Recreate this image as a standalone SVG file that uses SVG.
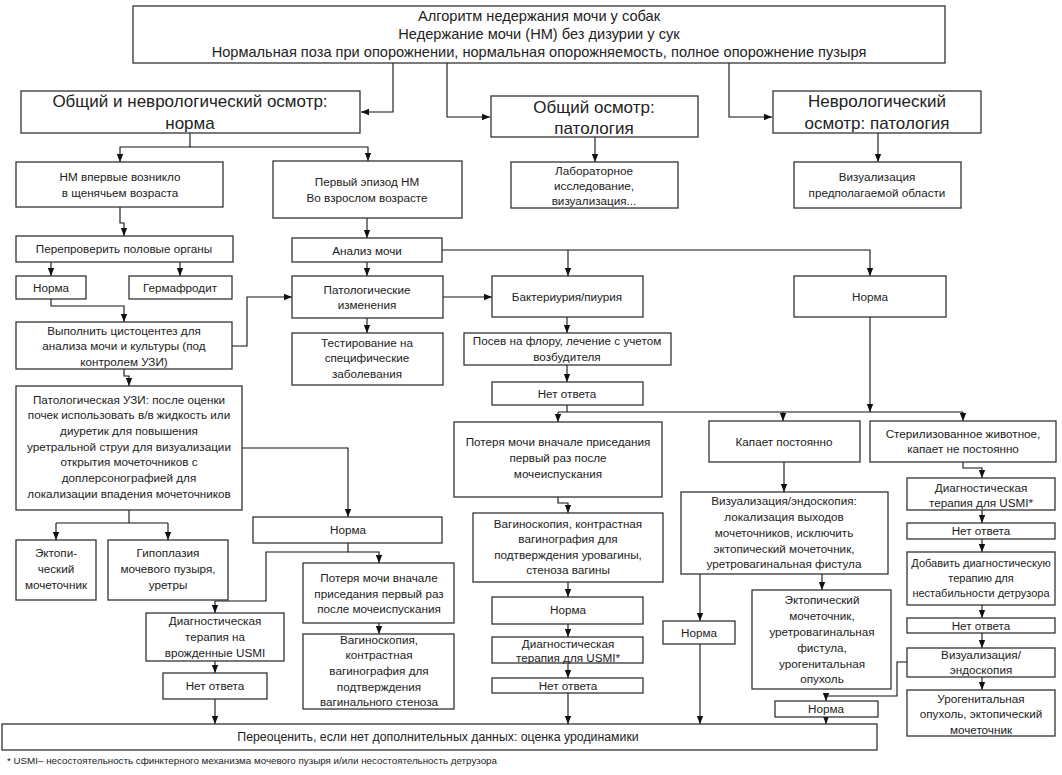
<svg xmlns="http://www.w3.org/2000/svg" width="1062" height="775" viewBox="0 0 1062 775">
<style>
.b{fill:#fff;stroke:#333;stroke-width:1.3}
text{font-family:"Liberation Sans",Arial,sans-serif;font-size:11.7px;fill:#222;text-anchor:middle}
.t14{font-size:14.6px}
.t17{font-size:17px}
.t12{font-size:12.3px}
.fn{font-size:9.5px;text-anchor:start}
.c{fill:none;stroke:#111;stroke-width:1.1}
.a{marker-end:url(#ah)}
</style>
<defs>
<marker id="ah" viewBox="0 0 10 10" refX="10" refY="5" markerWidth="8" markerHeight="8" markerUnits="userSpaceOnUse" orient="auto"><path d="M0,1 L10,5 L0,9 z" fill="#111"/></marker>
</defs>
<rect width="1062" height="775" fill="#fff"/>
<g id="connectors">
<path class="c a" d="M393,63 V112 H361"/>
<path class="c a" d="M447,63 V117 H490"/>
<path class="c a" d="M729,63 V117 H772"/>
<path class="c a" d="M595,137 V162"/>
<path class="c a" d="M878,133 V162"/>
<path class="c a" d="M190,133 V147 H120 V162"/>
<path class="c a" d="M190,147 H368 V161"/>
<path class="c a" d="M120,207 V223 H124 V236"/>
<path class="c a" d="M367,218 V238"/>
<path class="c a" d="M51,262 V276"/>
<path class="c a" d="M180,262 V276"/>
<path class="c a" d="M51,299 V306 H124 V322"/>
<path class="c a" d="M232,346 H247 V297 H292"/>
<path class="c a" d="M124,369 V376 H129 V386"/>
<path class="c a" d="M367,262 V276"/>
<path class="c a" d="M442,250 H870 V276"/>
<path class="c a" d="M568,250 V276"/>
<path class="c a" d="M367,318 V333"/>
<path class="c a" d="M443,297 H492"/>
<path class="c a" d="M567,317 V333"/>
<path class="c a" d="M567,365 V382"/>
<path class="c" d="M567,405 V412 M558,412 H963"/>
<path class="c a" d="M558,412 V422"/>
<path class="c a" d="M783,412 V421"/>
<path class="c a" d="M963,412 V421"/>
<path class="c a" d="M870,317 V412"/>
<path class="c a" d="M784,462 V492"/>
<path class="c a" d="M963,462 V468 H982 V478"/>
<path class="c a" d="M982,510 V523"/>
<path class="c a" d="M982,539 V552"/>
<path class="c a" d="M982,605 V618"/>
<path class="c a" d="M982,633 V648"/>
<path class="c a" d="M982,677 V690"/>
<path class="c a" d="M907,662 H897 V696 H826 V701"/>
<path class="c a" d="M700,574 V621"/>
<path class="c a" d="M700,644 V724"/>
<path class="c a" d="M822,574 V590"/>
<path class="c a" d="M826,717 V724"/>
<path class="c a" d="M558,497 V503 H568 V513"/>
<path class="c a" d="M568,582 V597"/>
<path class="c a" d="M568,624 V637"/>
<path class="c a" d="M568,663 V678"/>
<path class="c a" d="M568,693 V724"/>
<path class="c a" d="M242,448 H348 V517"/>
<path class="c" d="M129,510 V523 M56,523 H168"/>
<path class="c a" d="M56,523 V540"/>
<path class="c a" d="M168,523 V540"/>
<path class="c a" d="M348,543 V552 H266 V601 H215 V613"/>
<path class="c a" d="M348,552 H379 V563"/>
<path class="c a" d="M215,661 V673"/>
<path class="c a" d="M215,699 V724"/>
<path class="c a" d="M379,623 V634"/>
</g>
<g id="n-title"><rect class="b" x="133" y="6" width="812" height="57"/>
<text class="t14" x="539" y="21">Алгоритм недержания мочи у собак</text>
<text class="t14" x="539" y="39">Недержание мочи (НМ) без дизурии у сук</text>
<text class="t14" x="539" y="57">Нормальная поза при опорожнении, нормальная опорожняемость, полное опорожнение пузыря</text></g>
<g id="n-norm-exam"><rect class="b" x="21" y="91" width="339" height="42"/>
<text class="t17" x="190" y="107">Общий и неврологический осмотр:</text>
<text class="t17" x="190" y="129">норма</text></g>
<g id="n-gen-path"><rect class="b" x="491" y="96" width="207" height="41"/>
<text class="t17" x="594" y="113">Общий осмотр:</text>
<text class="t17" x="594" y="134">патология</text></g>
<g id="n-neuro-path"><rect class="b" x="773" y="91" width="208" height="42"/>
<text class="t17" x="877" y="107">Неврологический</text>
<text class="t17" x="877" y="129">осмотр: патология</text></g>
<g id="n-lab"><rect class="b" x="511" y="162" width="167" height="46"/>
<text x="594" y="175">Лабораторное</text>
<text x="594" y="190">исследование,</text>
<text x="594" y="205">визуализация...</text></g>
<g id="n-vis-area"><rect class="b" x="794" y="162" width="167" height="46"/>
<text x="877" y="181">Визуализация</text>
<text x="877" y="197">предполагаемой области</text></g>
<g id="n-puppy"><rect class="b" x="16" y="162" width="207" height="45"/>
<text x="120" y="181">НМ впервые возникло</text>
<text x="120" y="197">в щенячьем возраста</text></g>
<g id="n-adult"><rect class="b" x="273" y="161" width="189" height="57"/>
<text x="367" y="186">Первый эпизод  НМ</text>
<text x="367" y="202">Во взрослом возрасте</text></g>
<g id="n-recheck"><rect class="b" x="16" y="236" width="217" height="26"/>
<text x="124" y="253">Перепроверить половые органы</text></g>
<g id="n-urinalysis"><rect class="b" x="292" y="238" width="150" height="24"/>
<text x="367" y="255">Анализ мочи</text></g>
<g id="n-norm1"><rect class="b" x="16" y="276" width="70" height="23"/>
<text x="51" y="292">Норма</text></g>
<g id="n-herm"><rect class="b" x="129" y="276" width="103" height="23"/>
<text x="180" y="292">Гермафродит</text></g>
<g id="n-pathchg"><rect class="b" x="292" y="276" width="151" height="42"/>
<text x="367" y="294">Патологические</text>
<text x="367" y="309">изменения</text></g>
<g id="n-bact"><rect class="b" x="492" y="276" width="151" height="41"/>
<text x="567" y="301">Бактериурия/пиурия</text></g>
<g id="n-norm-right"><rect class="b" x="794" y="276" width="152" height="41"/>
<text x="870" y="301">Норма</text></g>
<g id="n-testing"><rect class="b" x="292" y="333" width="151" height="52"/>
<text x="367" y="347">Тестирование на</text>
<text x="367" y="362">специфические</text>
<text x="367" y="378">заболевания</text></g>
<g id="n-cysto"><rect class="b" x="16" y="322" width="216" height="47"/>
<text x="124" y="335">Выполнить цистоцентез для</text>
<text x="124" y="350">анализа мочи и культуры (под</text>
<text x="124" y="366">контролем УЗИ)</text></g>
<g id="n-culture"><rect class="b" x="464" y="333" width="207" height="32"/>
<text x="567" y="345">Посев на флору, лечение с учетом</text>
<text x="567" y="361">возбудителя</text></g>
<g id="n-noresp1"><rect class="b" x="492" y="382" width="151" height="23"/>
<text x="567" y="398">Нет ответа</text></g>
<g id="n-uzi"><rect class="b" x="16" y="386" width="226" height="124"/>
<text x="129" y="404">Патологическая УЗИ: после оценки</text>
<text x="129" y="419">почек использовать в/в жидкость или</text>
<text x="129" y="435">диуретик для повышения</text>
<text x="129" y="451">уретральной струи для визуализации</text>
<text x="129" y="466">открытия мочеточников с</text>
<text x="129" y="482">доплерсонографией для</text>
<text x="129" y="498">локализации впадения мочеточников</text></g>
<g id="n-loss-mid"><rect class="b" x="454" y="422" width="208" height="75"/>
<text x="558" y="446">Потеря мочи вначале приседания</text>
<text x="558" y="462">первый раз после</text>
<text x="558" y="478">мочеиспускания</text></g>
<g id="n-drip"><rect class="b" x="709" y="421" width="151" height="41"/>
<text x="784" y="446">Капает постоянно</text></g>
<g id="n-steril"><rect class="b" x="870" y="421" width="186" height="41"/>
<text x="963" y="438">Стерилизованное животное,</text>
<text x="963" y="453">капает не постоянно</text></g>
<g id="n-diag-r"><rect class="b" x="907" y="478" width="148" height="32"/>
<text x="981" y="492">Диагностическая</text>
<text x="981" y="507">терапия для USMI*</text></g>
<g id="n-visendo"><rect class="b" x="681" y="492" width="207" height="82"/>
<text x="784" y="505">Визуализация/эндоскопия:</text>
<text x="784" y="521">локализация выходов</text>
<text x="784" y="537">мочеточников, исключить</text>
<text x="784" y="553">эктопический мочеточник,</text>
<text x="784" y="568">уретровагинальная фистула</text></g>
<g id="n-vagino-mid"><rect class="b" x="473" y="513" width="190" height="69"/>
<text x="568" y="528">Вагиноскопия, контрастная</text>
<text x="568" y="543">вагинография для</text>
<text x="568" y="559">подтверждения уровагины,</text>
<text x="568" y="574">стеноза вагины</text></g>
<g id="n-norm-lm"><rect class="b" x="253" y="517" width="189" height="26"/>
<text x="348" y="534">Норма</text></g>
<g id="n-ecto"><rect class="b" x="16" y="540" width="80" height="60"/>
<text x="56" y="557">Эктопи-</text>
<text x="56" y="573">ческий</text>
<text x="56" y="589">мочеточник</text></g>
<g id="n-hypo"><rect class="b" x="108" y="540" width="120" height="60"/>
<text x="168" y="557">Гипоплазия</text>
<text x="168" y="573">мочевого пузыря,</text>
<text x="168" y="589">уретры</text></g>
<g id="n-noresp-r1"><rect class="b" x="907" y="523" width="148" height="16"/>
<text x="981" y="535">Нет ответа</text></g>
<g id="n-add"><rect class="b" x="907" y="552" width="148" height="53"/>
<text x="981" y="567" style="font-size:11px">Добавить диагностическую</text>
<text x="981" y="582" style="font-size:11px">терапию для</text>
<text x="981" y="597" style="font-size:11px">нестабильности детрузора</text></g>
<g id="n-loss-left"><rect class="b" x="303" y="563" width="151" height="60"/>
<text x="379" y="582">Потеря мочи вначале</text>
<text x="379" y="598">приседания первый раз</text>
<text x="379" y="613">после мочеиспускания</text></g>
<g id="n-ecto2"><rect class="b" x="752" y="590" width="139" height="99"/>
<text x="822" y="604">Эктопический</text>
<text x="822" y="620">мочеточник,</text>
<text x="822" y="636">уретровагинальная</text>
<text x="822" y="652">фистула,</text>
<text x="822" y="668">урогенитальная</text>
<text x="822" y="683">опухоль</text></g>
<g id="n-norm-mid"><rect class="b" x="492" y="597" width="151" height="27"/>
<text x="568" y="614">Норма</text></g>
<g id="n-diag-left"><rect class="b" x="146" y="613" width="138" height="48"/>
<text x="215" y="625">Диагностическая</text>
<text x="215" y="641">терапия на</text>
<text x="215" y="657">врожденные USMI</text></g>
<g id="n-norm-small1"><rect class="b" x="663" y="621" width="72" height="23"/>
<text x="699" y="637">Норма</text></g>
<g id="n-noresp-r2"><rect class="b" x="907" y="618" width="148" height="15"/>
<text x="981" y="630">Нет ответа</text></g>
<g id="n-vagino-left"><rect class="b" x="303" y="634" width="151" height="75"/>
<text x="379" y="644">Вагиноскопия,</text>
<text x="379" y="659">контрастная</text>
<text x="379" y="675">вагинография для</text>
<text x="379" y="691">подтверждения</text>
<text x="379" y="706">вагинального стеноза</text></g>
<g id="n-diag-mid"><rect class="b" x="492" y="637" width="151" height="26"/>
<text x="568" y="648">Диагностическая</text>
<text x="568" y="662">терапия для USMI*</text></g>
<g id="n-visendo-r"><rect class="b" x="907" y="648" width="148" height="29"/>
<text x="981" y="659">Визуализация/</text>
<text x="981" y="674">эндоскопия</text></g>
<g id="n-noresp-left"><rect class="b" x="163" y="673" width="104" height="26"/>
<text x="215" y="690">Нет ответа</text></g>
<g id="n-noresp-mid"><rect class="b" x="492" y="678" width="151" height="15"/>
<text x="568" y="690">Нет ответа</text></g>
<g id="n-tumor"><rect class="b" x="907" y="690" width="148" height="46"/>
<text x="981" y="703">Урогенитальная</text>
<text x="981" y="718">опухоль, эктопический</text>
<text x="981" y="734">мочеточник</text></g>
<g id="n-norm-small2"><rect class="b" x="775" y="701" width="103" height="16"/>
<text x="826" y="713">Норма</text></g>
<g id="n-reassess"><rect class="b" x="2" y="724" width="875" height="26"/>
<text class="t12" x="438" y="741">Переоценить, если нет дополнительных данных: оценка уродинамики</text></g>
<g id="footnote"><text class="fn" x="7" y="764" textLength="490" lengthAdjust="spacingAndGlyphs">* USMI– несостоятельность сфинктерного механизма мочевого пузыря и/или несостоятельность детрузора</text></g>
</svg>
